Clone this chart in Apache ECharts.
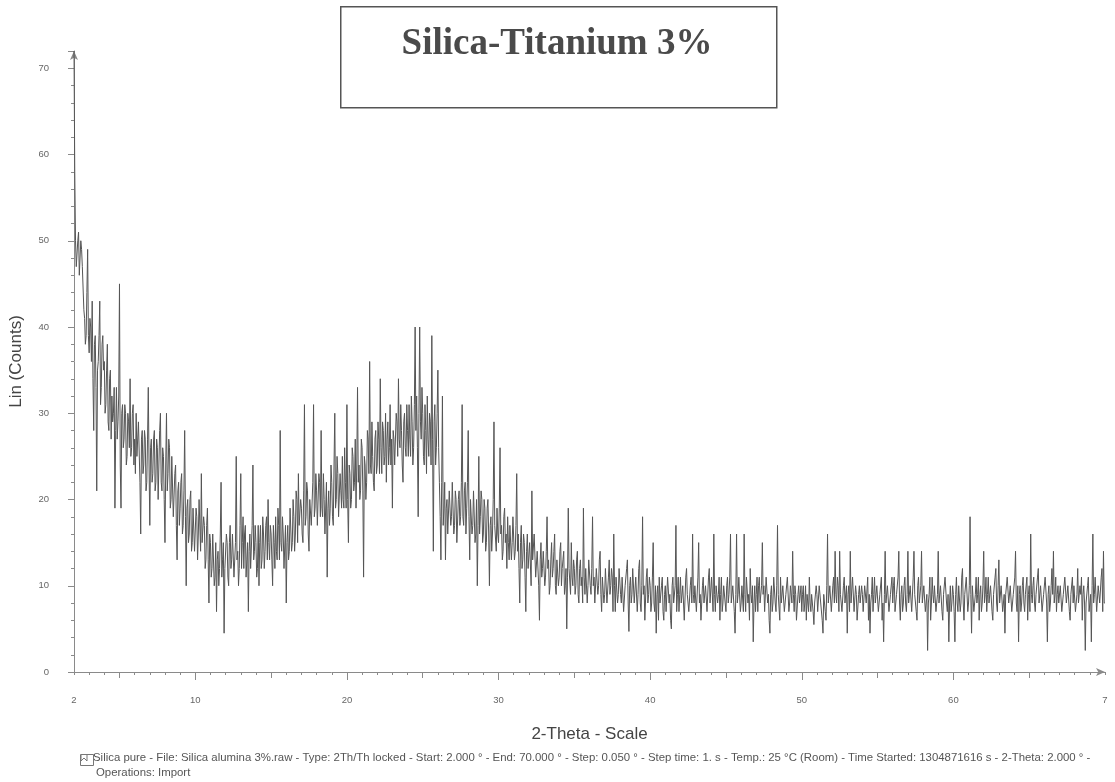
<!DOCTYPE html>
<html><head><meta charset="utf-8">
<script src="https://cdn.jsdelivr.net/npm/echarts@6/dist/echarts.min.js"></script>
<style>html,body{margin:0;padding:0;background:#fff}#c{width:1115px;height:782px}</style>
</head><body><div id="c"></div>
<script>
// Scan grid: 2-Theta from 2.000 to 70.000, step 0.050 (as stated in the footer)
const scanStart = 2.0;
const scanStep = 0.05;
// Lin (Counts), one row per degree (x.00 ... x.95)
const counts = [
72,58,50,47,47,50,51,46,46,50,49,47,47,42,41,38,39,44,49,39,
37,41,40,36,43,34,28,38,39,33,21,35,36,39,43,31,33,38,39,35,
36,30,31,35,38,29,28,34,35,27,32,29,30,33,19,28,33,27,29,32,
45,24,19,30,31,26,27,31,30,24,25,30,29,26,34,25,26,30,31,24,
27,23,30,25,25,29,29,22,16,27,28,23,24,28,27,21,22,27,33,24,
17,26,27,22,23,27,28,21,22,27,26,20,24,28,30,22,21,26,25,20,
15,24,30,21,23,27,26,19,20,25,25,18,18,23,24,17,13,21,22,17,
19,22,23,16,17,21,28,18,10,19,20,15,16,20,21,14,15,19,19,14,
14,19,18,13,16,20,20,14,23,15,15,18,17,12,13,17,19,13,8,16,
15,11,12,16,16,10,11,15,7,13,14,10,12,16,22,11,13,15,4.5,12,
12,16,15,11,10,15,17,12,13,16,16,11,11,15,25,13,14,10,12,17,
23,12,15,18,12,16,17,11,13,15,7,14,16,12,12,17,24,13,14,17,
15,11,12,17,10,15,17,12,13,18,16,12,14,17,18,13,20,15,13,17,
16,13,10,17,15,12,18,14,13,19,17,13,28,15,14,18,16,12,12,17,
8,15,17,13,14,19,19,14,15,20,18,14,16,21,20,15,23,17,17,20,
19,16,15,21,31,17,18,22,21,16,14,20,20,17,17,22,31,18,19,23,
21,17,17,23,22,18,28,19,18,23,20,16,16,22,11,19,21,17,19,24,
22,18,17,24,30,19,20,25,23,18,18,23,21,19,25,20,19,26,22,19,
31,20,15,24,23,19,20,26,25,21,22,27,19,24,33,22,24,20,21,27,
26,21,11,25,24,20,22,28,27,23,36,24,23,29,25,22,21,27,28,23,
24,29,27,23,34,26,23,29,28,24,25,30,22,27,29,24,26,31,24,27,
19,28,27,24,24,30,29,25,34,27,26,31,28,24,22,29,30,26,25,31,
28,25,31,27,25,32,29,24,26,31,40,28,32,26,18,30,40,29,27,33,
30,25,24,31,28,23,32,27,25,30,29,24,39,27,14,29,31,24,26,30,
35,26,22,18,13,22,32,17,19,22,13,19,20,16,16,21,21,17,18,22,
22,16,17,21,20,15,15,20,21,17,18,22,31,18,17,21,22,16,19,22,
28,18,13,20,20,16,17,21,21,15,16,20,10,17,25,16,18,21,20,15,
16,20,19,14,15,19,20,16,10,17,18,14,16,20,29,17,17,14,19,16,
15,19,26,16,17,13,14,18,19,15,16,12,18,15,13,17,17,13,15,18,
18,13,14,17,23,14,16,12,8,15,17,12,13,16,15,11,7,14,16,12,
12,15,15,10,21,13,13,16,16,11,11,14,14,10,6,13,15,11,12,14,
14,10,11,14,18,12,13,9,10,13,15,11,12,14,16,10,9,13,13,10,
11,14,15,10,12,13,14,9,10,12,5,11,19,12,12,9,15,11,10,13,
12,9,10,13,14,9,8,12,13,10,11,8,19,11,9,12,12,8,10,13,
13,10,9,12,18,10,11,8,8,12,12,9,10,13,14,9,7,11,11,8,
9,12,12,8,8,11,13,9,10,12,11,7,16,10,7,11,11,8,9,12,
12,9,8,11,11,7,7,10,10,12,13,8,4.7,10,11,8,9,12,12,8,
8,11,11,7,9,12,13,8,7,10,18,9,10,6,6,11,12,8,9,11,
10,7,8,11,15,8,7,10,4.5,9,10,6,11,8,8,10,11,7,6,9,
10,7,7,11,11,8,9,6,5,10,11,8,8,10,17,7,9,11,7,9,
11,8,8,10,10,6,6,11,12,9,9,7,7,10,11,8,16,9,8,10,
10,7,7,11,15,8,9,6,6,10,11,8,8,10,10,7,7,11,12,8,
8,11,11,7,16,9,7,10,10,8,9,11,6,9,11,7,8,10,10,8,
7,10,11,8,9,11,16,8,8,10,10,7,4.5,9,16,8,9,11,11,7,
8,10,10,7,16,9,7,11,11,8,9,6,12,9,8,10,3.5,8,10,7,
9,11,7,10,11,8,8,10,15,9,10,7,7,11,11,8,9,6,4.5,9,
10,7,8,11,11,8,7,10,17,9,9,6,11,8,8,10,10,7,7,9,
9,11,11,7,8,10,10,8,14,9,7,10,9,6,6,9,10,8,8,10,
7,9,10,7,8,10,6,9,9,7,11,8,7,9,9,7,5.5,8,8,10,
9,7,7,10,10,8,8,6,4.5,9,9,7,6,10,16,8,8,10,10,7,
7,10,11,8,14,9,8,11,10,7,14,9,9,7,7,10,11,8,8,10,
4.5,9,10,7,14,8,8,11,11,7,7,10,9,6,6,9,10,8,8,10,
9,7,7,10,10,8,8,11,6,9,4.5,8,9,11,7,9,11,8,8,10,
10,7,7,9,9,11,6,8,3.5,9,14,8,8,10,10,7,7,9,9,11,
8,10,11,7,7,9,9,11,14,8,6,9,10,7,8,10,11,8,7,9,
14,8,8,10,10,7,7,11,14,9,9,7,6,10,11,8,8,10,14,8,
8,10,10,7,7,9,2.5,8,9,11,6,8,11,9,8,10,10,7,7,9,
14,8,8,10,10,7,6,9,9,11,11,8,7,9,3.5,8,10,7,8,10,
9,7,3.5,9,11,8,7,10,10,7,8,11,12,8,6,9,9,11,11,7,
8,10,18,9,4.5,10,10,7,7,9,11,8,9,11,6,9,10,7,8,10,
14,8,9,11,7,9,11,8,8,10,10,7,6,9,9,11,12,8,7,10,
13,8,8,10,10,7,7,9,4.5,9,9,11,11,8,8,10,10,7,7,9,
9,11,14,8,7,10,3.5,9,10,7,8,10,11,8,7,9,9,11,6,9,
10,7,16,9,8,10,11,8,7,9,9,11,12,8,8,10,10,7,7,9,
9,11,11,8,3.5,9,10,7,8,10,12,9,14,8,9,11,7,9,10,8,
8,10,10,7,7,9,9,11,11,8,8,10,10,7,6,9,9,11,8,10,
10,7,7,9,12,8,8,10,9,11,6,9,10,8,2.5,8,8,10,11,7,
7,9,3.5,10,16,8,9,11,11,7,7,10,10,8,8,11,12,7,14,8,
8
];
const xMin = 2, xMax = 70;
const yMin = 0, yMax = 72;
const xLabelValues = [2, 10, 20, 30, 40, 50, 60, 70];
const xMidTickValues = [5, 15, 25, 35, 45, 55, 65];
const xMajorTickValues = [10, 20, 30, 40, 50, 60];
const chartTitle = 'Silica-Titanium 3%';
const yName = 'Lin (Counts)';
const xName = '2-Theta - Scale';
const footerLine1 = 'Silica pure - File: Silica alumina 3%.raw - Type: 2Th/Th locked - Start: 2.000 ° - End: 70.000 ° - Step: 0.050 ° - Step time: 1. s - Temp.: 25 °C (Room) - Time Started: 1304871616 s - 2-Theta: 2.000 ° -';
const footerLine2 = 'Operations: Import';

const points = counts.map((v, i) => [+(scanStart + i * scanStep).toFixed(3), v]);
const xMinorTickValues = [];
for (let t = xMin; t <= xMax; t++) xMinorTickValues.push(t);

const axisGrey = '#8a8a8a';
const font = 'Liberation Sans, Arial, sans-serif';

const chart = echarts.init(document.getElementById('c'), null, {renderer: 'canvas'});
const baseX = {
  type: 'value', min: xMin, max: xMax, gridIndex: 0, position: 'bottom',
  splitLine: {show: false}
};
chart.setOption({
  animation: false,
  backgroundColor: '#fff',
  grid: {left: 73, right: 10, top: 51, bottom: 110, containLabel: false},
  xAxis: [
    Object.assign({}, baseX, {
      name: xName, nameLocation: 'middle', nameGap: 54,
      nameTextStyle: {fontSize: 17, color: '#444', fontFamily: font},
      axisLine: {show: true, lineStyle: {color: axisGrey, width: 1}, symbol: ['none', 'arrow'], symbolSize: [6, 9]},
      axisTick: {show: true, customValues: xMinorTickValues, length: 3, lineStyle: {color: axisGrey}},
      axisLabel: {show: true, customValues: xLabelValues, margin: 23, fontSize: 9.5, color: '#666', fontFamily: font,
        formatter: v => (v === 70 ? '7' : String(v))}
    }),
    Object.assign({}, baseX, {
      axisLine: {show: false},
      axisTick: {show: true, customValues: xMidTickValues, length: 6, lineStyle: {color: axisGrey}},
      axisLabel: {show: false}
    }),
    Object.assign({}, baseX, {
      axisLine: {show: false},
      axisTick: {show: true, customValues: xMajorTickValues, length: 8, lineStyle: {color: axisGrey}},
      axisLabel: {show: false}
    })
  ],
  yAxis: {
    type: 'value', min: yMin, max: yMax, interval: 10,
    name: yName, nameLocation: 'middle', nameGap: 49,
    nameTextStyle: {fontSize: 17, color: '#444', fontFamily: font},
    axisLine: {show: true, lineStyle: {color: axisGrey, width: 1}, symbol: ['none', 'arrow'], symbolSize: [6, 9]},
    axisTick: {show: true, length: 6, lineStyle: {color: axisGrey}},
    minorTick: {show: true, splitNumber: 5, length: 3, lineStyle: {color: axisGrey}},
    axisLabel: {margin: 25, fontSize: 9.5, color: '#666', fontFamily: font, showMaxLabel: false,
      formatter: v => (v > 70 ? '' : String(v))},
    splitLine: {show: false}
  },
  series: [{
    type: 'line', xAxisIndex: 0, data: points, showSymbol: false, symbol: 'none', clip: false, z: 5,
    sampling: null, lineStyle: {color: '#555555', width: 1}, silent: true
  }],
  graphic: [
    {type: 'rect', left: 340, top: 6, shape: {width: 436, height: 101},
      style: {fill: '#fff', stroke: '#555', lineWidth: 1.5}, z: 10},
    {type: 'text', x: 557, y: 44, z: 11,
      style: {text: chartTitle, fill: '#4a4a4a', font: 'bold 37px "Liberation Serif", "Times New Roman", serif',
        textAlign: 'center', textVerticalAlign: 'middle'}},
    {type: 'rect', left: 78, top: 752, shape: {width: 13, height: 11},
      style: {fill: 'none', stroke: '#777', lineWidth: 1}, z: 10},
    {type: 'polyline', z: 10, shape: {points: [[81, 755], [81, 761], [84, 758], [87, 761], [87, 755]]},
      style: {fill: 'none', stroke: '#777', lineWidth: 1}},
    {type: 'text', x: 93, y: 758, z: 11,
      style: {text: footerLine1, fill: '#555', font: '11.4px "Liberation Sans", Arial, sans-serif',
        textAlign: 'left', textVerticalAlign: 'middle'}},
    {type: 'text', x: 96, y: 773, z: 11,
      style: {text: footerLine2, fill: '#555', font: '11.4px "Liberation Sans", Arial, sans-serif',
        textAlign: 'left', textVerticalAlign: 'middle'}}
  ]
});
</script>
</body></html>
